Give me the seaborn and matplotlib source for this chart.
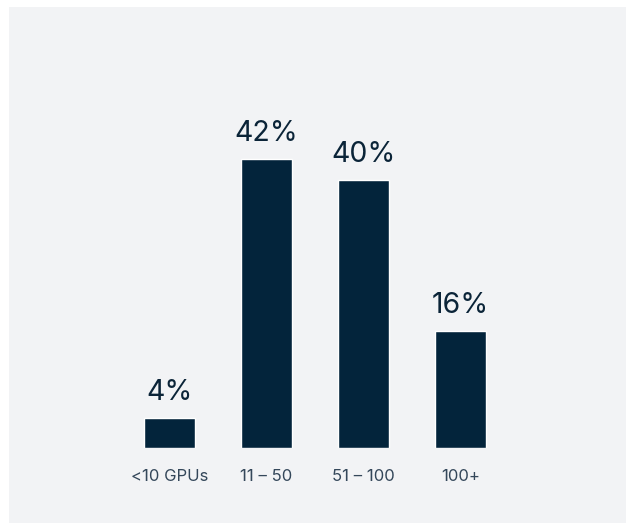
import matplotlib
matplotlib.use("Agg")
import matplotlib.pyplot as plt
from matplotlib.patches import Rectangle
import seaborn as sns
import pandas as pd

# Data
categories = ["<10 GPUs", "11 – 50", "51 – 100", "100+"]
bar_heights = [4.3, 42.0, 39.0, 17.0]          # bar lengths as drawn (%)
bar_labels = ["4%", "42%", "40%", "16%"]        # printed labels

BAR_COLOR = "#03243b"
LABEL_COLOR = "#0b2438"
TICK_COLOR = "#34475a"
PANEL_COLOR = "#f2f3f5"

sns.set_theme(style="white")
plt.rcParams["font.family"] = ["Inter", "DejaVu Sans"]

W, H = 626, 523
fig = plt.figure(figsize=(W / 100, H / 100), dpi=100)
fig.patch.set_facecolor("white")
fig.patches.append(Rectangle((9 / W, 0), 1 - 9 / W, 1 - 7 / H,
                             transform=fig.transFigure, facecolor=PANEL_COLOR,
                             edgecolor="none", zorder=-10))

# axes placement (pixels)
left_px, right_px = 121, 509
base_px = 447.7
ymax = 50
px_per_unit = 6.87
top_px = base_px - ymax * px_per_unit
ax = fig.add_axes([left_px / W, (H - base_px) / H,
                   (right_px - left_px) / W, (base_px - top_px) / H])
ax.set_facecolor("none")
ax.patch.set_alpha(0)

df = pd.DataFrame({"cat": categories, "val": bar_heights})
sns.barplot(data=df, x="cat", y="val", color=BAR_COLOR, saturation=1,
            width=0.525, ax=ax)
ax.set_xlim(-0.5, len(categories) - 0.5)
ax.set_ylim(0, ymax)

for i, (h, lab) in enumerate(zip(bar_heights, bar_labels)):
    ax.annotate(lab, xy=(i, h), xytext=(0, 13), textcoords="offset points",
                ha="center", va="baseline", fontsize=20.5, color=LABEL_COLOR)

ax.set_xlabel("")
ax.set_ylabel("")
ax.set_yticks([])
ax.tick_params(axis="x", length=0, pad=15.5, labelsize=12, labelcolor=TICK_COLOR)
for s in ax.spines.values():
    s.set_visible(False)

fig.savefig("out.png", dpi=100)
